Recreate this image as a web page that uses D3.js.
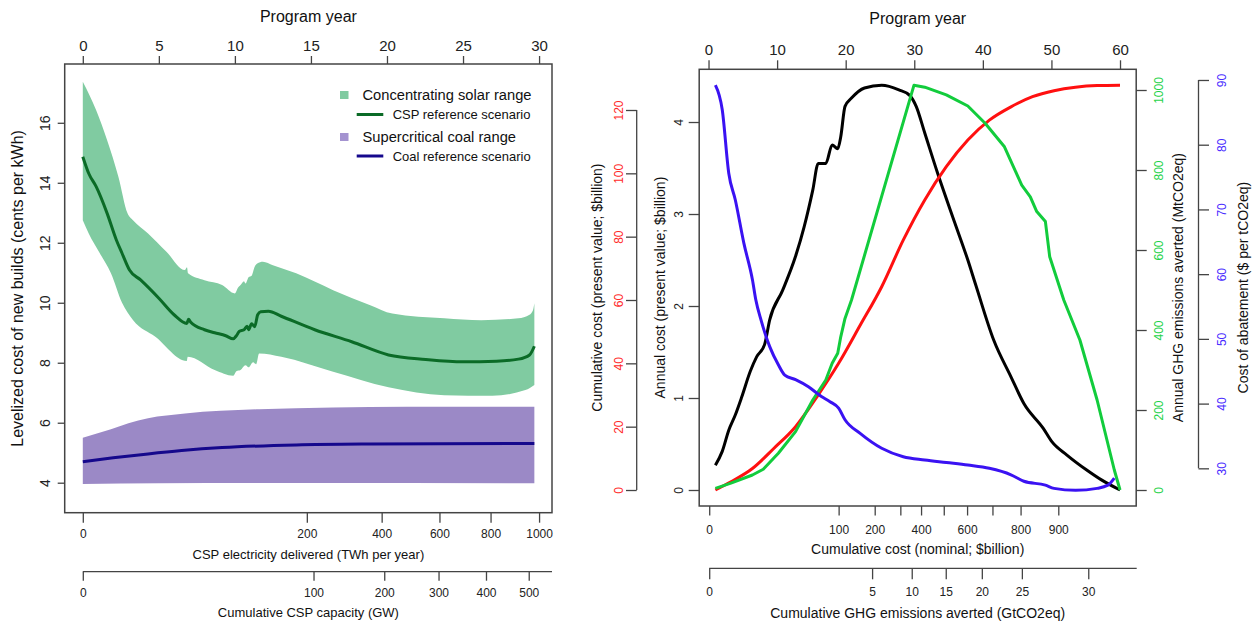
<!DOCTYPE html>
<html>
<head>
<meta charset="utf-8">
<script src="https://cdn.jsdelivr.net/npm/d3@7"></script>
<style>
  body { margin: 0; background: #fff; }
  svg { display: block; font-family: "Liberation Sans", Arial, sans-serif; }
</style>
</head>
<body>
<div id="chart"></div>
<script>
// ---------- Left panel data (x = program year) ----------
const leftYearTicks = [0, 5, 10, 15, 20, 25, 30];
const twhTicks = [0, 200, 400, 600, 800, 1000];
const twhTickYears = [0, 14.73, 19.65, 23.45, 26.81, 30.0];
const gwTicks = [0, 100, 200, 300, 400, 500];
const gwTickYears = [0, 15.17, 19.82, 23.39, 26.51, 29.32];
const costTicks = [4, 6, 8, 10, 12, 14, 16];

// [year, cents per kWh]
const cspUpper = [[0,17.37],[0.88,16.42],[1.6,15.42],[2.34,14.2],[2.94,12.98],[3.3,12.75],[4.29,12.31],[5.5,11.7],
  [6.72,11.09],[6.85,11.18],[6.92,10.98],[8.0,10.75],[9.16,10.59],[10.0,10.31],[10.2,10.5],[10.37,10.59],
  [10.6,10.72],[10.7,10.64],[10.9,10.85],[11.1,10.9],[11.3,11.2],[11.47,11.31],[11.84,11.37],[12.5,11.25],
  [14.03,10.98],[16.46,10.42],[18.9,9.92],[20.35,9.64],[23.77,9.48],[26.2,9.42],[28.64,9.48],[29.37,9.6],
  [29.6,9.75],[29.69,9.98]];
const cspLower = [[0,12.75],[0.39,12.31],[1.12,11.65],[1.85,10.98],[2.58,10.0],[3.31,9.42],[4.77,8.87],
  [6.84,8.06],[6.9,8.2],[8.67,7.76],[9.89,7.57],[10.1,7.72],[10.37,7.76],[10.7,7.92],[10.9,7.85],[11.2,8.02],
  [11.4,7.95],[11.59,8.31],[13.05,8.2],[16.46,7.7],[20.1,7.18],[23.77,6.92],[26.93,6.9],[29.1,7.09],[29.69,7.26]];
const cspRef = [[0,14.87],[0.4,14.3],[0.88,13.87],[1.6,12.98],[2.2,12.1],[2.58,11.65],[3.07,11.09],
  [3.8,10.76],[5.0,10.15],[6.0,9.6],[6.84,9.31],[6.95,9.45],[7.1,9.35],[8.0,9.1],[8.67,9.0],[9.4,8.9],
  [9.89,8.8],[10.1,8.9],[10.3,9.05],[10.6,9.1],[10.8,9.22],[10.9,9.1],[11.1,9.3],[11.3,9.2],[11.5,9.6],
  [11.7,9.7],[12.2,9.72],[13.05,9.55],[15.25,9.1],[17.68,8.7],[20.1,8.26],[22.55,8.11],[25.0,8.03],
  [27.2,8.05],[28.64,8.12],[29.37,8.26],[29.69,8.55]];
const coalUpper = [[0,5.5],[1.85,5.78],[3.0,5.98],[4.29,6.15],[6.72,6.31],[11.59,6.45],[16.46,6.51],[21.3,6.53],[29.69,6.53]];
const coalLower = [[0,3.96],[5,3.98],[15,3.99],[29.69,3.98]];
const coalRef = [[0,4.7],[2,4.83],[4.29,4.96],[6.5,5.07],[9.16,5.17],[14.03,5.26],[18.9,5.29],[29.69,5.31]];

// ---------- Right panel data (x = program year) ----------
const rightYearTicks = [0, 10, 20, 30, 40, 50, 60];
const annualTicks = [0, 1, 2, 3, 4];
const cumTicks = [0, 20, 40, 60, 80, 100, 120];
const ghgTicks = [0, 200, 400, 600, 800, 1000];
const abateTicks = [30, 40, 50, 60, 70, 80, 90];
const nominalTickLabels = ["0", "100", "200", "", "400", "", "600", "", "800", "900"];
const nominalTickYears = [0.1, 18.97, 24.23, 27.97, 30.99, 34.3, 37.7, 41.4, 45.5, 51.0];
const gtTicks = [0, 5, 10, 15, 20, 25, 30];
const gtTickYears = [0.1, 23.85, 29.63, 34.59, 39.85, 45.69, 55.37];

const annualCost = [[1,0.27],[2,0.42],[2.95,0.65],[3.9,0.815],[4.84,1.01],[6.09,1.29],[7.03,1.45],[8.17,1.58],
  [8.92,1.85],[10.8,2.17],[12.69,2.54],[13.94,2.86],[15.2,3.26],[16,3.55],[17.1,3.55],[18.03,3.75],[18.84,3.71],
  [19.28,3.84],[19.9,4.17],[20.85,4.26],[22.74,4.37],[25.25,4.40],[27.76,4.35],[29.33,4.29],[30.28,4.17],
  [31.53,3.88],[33.42,3.44],[35.93,2.90],[37.81,2.5],[39,2.22],[41.58,1.63],[44.1,1.23],[45.98,0.94],
  [48.81,0.67],[50.06,0.525],[52.26,0.38],[55.09,0.22],[57.29,0.11],[60,0]];
const cumulativeCost = [[1,0],[3.27,2.6],[6.4,6.8],[9.55,13.2],[12.69,20],[15.83,29.5],[18.97,40],[22.11,52],
  [25.25,64.2],[28.39,78.9],[31.53,91.6],[34.67,102.1],[37.81,110.5],[40.95,116.8],[44.1,121],[47.24,124.2],
  [50.38,126.1],[53.5,127.2],[56.66,127.7],[60,127.8]];
const annualGhg = [[1,4],[3.27,17],[6.4,37.5],[7.98,52],[10.18,92],[12.69,146],[15.2,225],[17.1,275],[18.03,317],
  [18.84,342],[19.28,383],[19.9,429],[20.85,475],[29.96,1012],[31.53,1007],[34.67,988],[37.81,960],[40.33,917],
  [43.15,858],[45.67,762],[46.92,733],[47.86,696],[49.12,671],[49.75,583],[51.8,475],[54.15,375],[56.66,225],
  [59.17,50],[60,0]];
const abatementCost = [[1,89.2],[2,85.4],[2.95,75.6],[3.9,71.5],[5.15,64.8],[6.41,59.1],[6.9,56],[7.66,52.9],
  [8.92,48.8],[10.18,46],[11.12,44.4],[12.69,43.7],[14.57,42.6],[16.46,41.1],[17.71,40.3],[18.97,39.3],
  [19.9,37.5],[22.11,35.4],[25.25,33.1],[28.39,31.8],[31.53,31.3],[34.67,30.9],[37.81,30.5],[40.95,30.0],
  [44.1,29.0],[45.98,28.0],[49.12,27.4],[50.38,26.9],[53.52,26.6],[56.66,26.9],[58.23,27.4],[59.17,28.5]];

// ---------- setup ----------
const W = 1255, H = 622;
const AXIS = "#444";
const svg = d3.select("#chart").append("svg").attr("width", W).attr("height", H);
svg.append("rect").attr("width", W).attr("height", H).attr("fill", "#fff");

// rotate vertical-axis tick labels R style (parallel to the axis)
function rotateLabels(g, dx, color, size) {
  g.selectAll(".tick text")
    .attr("x", 0).attr("y", 0).attr("dy", "0.35em")
    .attr("text-anchor", "middle")
    .attr("transform", `translate(${dx},0) rotate(-90)`)
    .attr("fill", color).style("font-size", size + "px");
}
function styleAxis(g) {
  g.select(".domain").remove();
  g.selectAll(".tick line").attr("stroke", AXIS).attr("stroke-width", 1.3);
}
function bottomLabels(g, y, size) {
  g.selectAll(".tick text").attr("y", y).attr("dy", "0.35em").attr("fill", "#222").style("font-size", size + "px");
}
function vTitle(x, y, txt, size) {
  svg.append("text").attr("transform", `translate(${x},${y}) rotate(-90)`)
    .attr("text-anchor", "middle").attr("dy", "0.35em").style("font-size", size + "px").attr("fill", "#111").text(txt);
}
function hTitle(x, y, txt, size) {
  svg.append("text").attr("x", x).attr("y", y).attr("dy", "0.35em")
    .attr("text-anchor", "middle").style("font-size", size + "px").attr("fill", "#111").text(txt);
}
const plain = d => String(d);

// ================= LEFT PANEL =================
const xL = d3.scaleLinear().domain([-1.19, 30.85]).range([64.7, 552]);
const yL = d3.scaleLinear().domain([3, 17.96]).range([512.7, 64]);

// band = upper edge then lower edge reversed, each drawn smoothly
function band(upper, lower, x, y) {
  const up = d3.line().x(d => x(d[0])).y(d => y(d[1])).curve(d3.curveMonotoneX)(upper);
  const lo = d3.line().x(d => x(d[0])).y(d => y(d[1])).curve(d3.curveMonotoneX)(lower.slice().reverse());
  return up + "L" + lo.slice(1) + "Z";
}

svg.append("path").attr("d", band(cspUpper, cspLower, xL, yL)).attr("fill", "#80cba1");
svg.append("path").attr("d", band(coalUpper, coalLower, xL, yL)).attr("fill", "#9b89c6");

svg.append("path").datum(cspRef).attr("fill", "none").attr("stroke", "#0b6b27").attr("stroke-width", 3)
  .attr("stroke-linejoin", "round").attr("d", d3.line().x(d => xL(d[0])).y(d => yL(d[1])).curve(d3.curveMonotoneX));
svg.append("path").datum(coalRef).attr("fill", "none").attr("stroke", "#15088c").attr("stroke-width", 3)
  .attr("d", d3.line().x(d => xL(d[0])).y(d => yL(d[1])).curve(d3.curveMonotoneX));

svg.append("rect").attr("x", 64.7).attr("y", 64).attr("width", 552 - 64.7).attr("height", 512.7 - 64)
  .attr("fill", "none").attr("stroke", AXIS).attr("stroke-width", 1.5);

// top axis: program year
const gLT = svg.append("g").attr("transform", "translate(0,64)")
  .call(d3.axisTop(xL).tickValues(leftYearTicks).tickFormat(plain).tickSize(8));
styleAxis(gLT);
gLT.selectAll(".tick text").attr("y", -18.3).attr("dy", "0.35em").attr("fill", "#222").style("font-size", "15px");
hTitle(308.4, 16.7, "Program year", 16);

// left axis: cost
const gLY = svg.append("g").attr("transform", "translate(64.7,0)")
  .call(d3.axisLeft(yL).tickValues(costTicks).tickFormat(plain).tickSize(7));
styleAxis(gLY);
rotateLabels(gLY, -19.7, "#222", 14);
vTitle(17, 288.4, "Levelized cost of new builds (cents per kWh)", 16);

// bottom axis: TWh delivered (positioned by program year)
const gLB = svg.append("g").attr("transform", "translate(0,512.7)")
  .call(d3.axisBottom(xL).tickValues(twhTickYears).tickFormat((d, i) => twhTicks[i]).tickSize(10));
styleAxis(gLB);
bottomLabels(gLB, 21.6, 12);
hTitle(308.4, 554, "CSP electricity delivered (TWh per year)", 13);

// second bottom axis: GW capacity
const gLB2 = svg.append("g").attr("transform", "translate(0,571.7)")
  .call(d3.axisBottom(xL).tickValues(gwTickYears).tickFormat((d, i) => gwTicks[i]).tickSize(9));
styleAxis(gLB2);
gLB2.append("line").attr("x1", xL(0)).attr("x2", 552).attr("stroke", AXIS).attr("stroke-width", 1.3);
bottomLabels(gLB2, 21.6, 12);
hTitle(308.4, 612.5, "Cumulative CSP capacity (GW)", 13);

// legend
const legend = svg.append("g");
const legItems = [
  { type: "box", color: "#80cba1", label: "Concentrating solar range", y: 95, size: 14.7 },
  { type: "line", color: "#0b6b27", label: "CSP reference scenario", y: 114.5, size: 13 },
  { type: "box", color: "#a493d0", label: "Supercritical coal range", y: 137, size: 14.7 },
  { type: "line", color: "#15088c", label: "Coal reference scenario", y: 156, size: 13 }
];
legItems.forEach(d => {
  if (d.type === "box") {
    legend.append("rect").attr("x", 340).attr("y", d.y - 4).attr("width", 8.5).attr("height", 8).attr("fill", d.color);
    legend.append("text").attr("x", 362.5).attr("y", d.y).attr("dy", "0.35em").style("font-size", d.size + "px")
      .attr("fill", "#111").text(d.label);
  } else {
    legend.append("line").attr("x1", 356.7).attr("x2", 383.3).attr("y1", d.y).attr("y2", d.y)
      .attr("stroke", d.color).attr("stroke-width", 3);
    legend.append("text").attr("x", 392.7).attr("y", d.y).attr("dy", "0.35em").style("font-size", d.size + "px")
      .attr("fill", "#111").text(d.label);
  }
});

// ================= RIGHT PANEL =================
const xR = d3.scaleLinear().domain([-1.36, 62.36]).range([699.2, 1136.2]);
const yAnnual = d3.scaleLinear().domain([-0.174, 4.573]).range([506, 69.3]);
const yCum = d3.scaleLinear().domain([-5.05, 132.85]).range([506, 69.3]);
const yGhg = d3.scaleLinear().domain([-40, 1051.75]).range([506, 69.3]);
const yAbate = d3.scaleLinear().domain([24.18, 91.65]).range([506, 69.3]);

function series(data, y, color, curve) {
  svg.append("path").datum(data).attr("fill", "none").attr("stroke", color).attr("stroke-width", 3)
    .attr("stroke-linejoin", "round")
    .attr("d", d3.line().x(d => xR(d[0])).y(d => y(d[1])).curve(curve || d3.curveLinear));
}
series(annualCost, yAnnual, "#000", d3.curveMonotoneX);
series(cumulativeCost, yCum, "#ff1010", d3.curveMonotoneX);
series(annualGhg, yGhg, "#12cc3c");
series(abatementCost, yAbate, "#3a12f2", d3.curveMonotoneX);

svg.append("rect").attr("x", 699.2).attr("y", 69.3).attr("width", 1136.2 - 699.2).attr("height", 506 - 69.3)
  .attr("fill", "none").attr("stroke", AXIS).attr("stroke-width", 1.5);

// top axis
const gRT = svg.append("g").attr("transform", "translate(0,69.3)")
  .call(d3.axisTop(xR).tickValues(rightYearTicks).tickFormat(plain).tickSize(9));
styleAxis(gRT);
gRT.selectAll(".tick text").attr("y", -20).attr("dy", "0.35em").attr("fill", "#222").style("font-size", "15px");
hTitle(917.7, 18.3, "Program year", 16);

// inner left: annual cost
const gRA = svg.append("g").attr("transform", "translate(699.2,0)")
  .call(d3.axisLeft(yAnnual).tickValues(annualTicks).tickFormat(plain).tickSize(10.5));
styleAxis(gRA);
rotateLabels(gRA, -20.9, "#222", 12);
vTitle(660, 287.6, "Annual cost  (present value; $billion)", 14);

// outer left: cumulative cost
const gRC = svg.append("g").attr("transform", "translate(636.7,0)")
  .call(d3.axisLeft(yCum).tickValues(cumTicks).tickFormat(plain).tickSize(10.7));
styleAxis(gRC);
gRC.append("line").attr("y1", yCum(0)).attr("y2", yCum(120)).attr("stroke", AXIS).attr("stroke-width", 1.3);
rotateLabels(gRC, -18.4, "#ff2a2a", 12);
vTitle(596.7, 287.6, "Cumulative cost  (present value; $billion)", 14);

// inner right: annual GHG
const gRG = svg.append("g").attr("transform", "translate(1136.2,0)")
  .call(d3.axisRight(yGhg).tickValues(ghgTicks).tickFormat(plain).tickSize(10.5));
styleAxis(gRG);
rotateLabels(gRG, 22.8, "#1fd34a", 12);
vTitle(1178.4, 287.6, "Annual GHG emissions averted  (MtCO2eq)", 14);

// outer right: cost of abatement
const gRB = svg.append("g").attr("transform", "translate(1198.5,0)")
  .call(d3.axisRight(yAbate).tickValues(abateTicks).tickFormat(plain).tickSize(10.5));
styleAxis(gRB);
gRB.append("line").attr("y1", yAbate(30)).attr("y2", yAbate(90)).attr("stroke", AXIS).attr("stroke-width", 1.3);
rotateLabels(gRB, 22.9, "#4a2cff", 12);
vTitle(1243, 287.6, "Cost of abatement ($ per tCO2eq)", 14);

// bottom: cumulative nominal cost
const gRN = svg.append("g").attr("transform", "translate(0,506)")
  .call(d3.axisBottom(xR).tickValues(nominalTickYears).tickFormat((d, i) => nominalTickLabels[i]).tickSize(9.5));
styleAxis(gRN);
bottomLabels(gRN, 23.3, 12);
hTitle(917.7, 549.3, "Cumulative cost (nominal; $billion)", 14);

// second bottom: cumulative GHG averted
const gRG2 = svg.append("g").attr("transform", "translate(0,568.3)")
  .call(d3.axisBottom(xR).tickValues(gtTickYears).tickFormat((d, i) => gtTicks[i]).tickSize(11));
styleAxis(gRG2);
gRG2.append("line").attr("x1", xR(0.1)).attr("x2", 1136.7).attr("stroke", AXIS).attr("stroke-width", 1.3);
bottomLabels(gRG2, 23.4, 12);
hTitle(917.7, 612.7, "Cumulative GHG emissions averted (GtCO2eq)", 14);
</script>
</body>
</html>
